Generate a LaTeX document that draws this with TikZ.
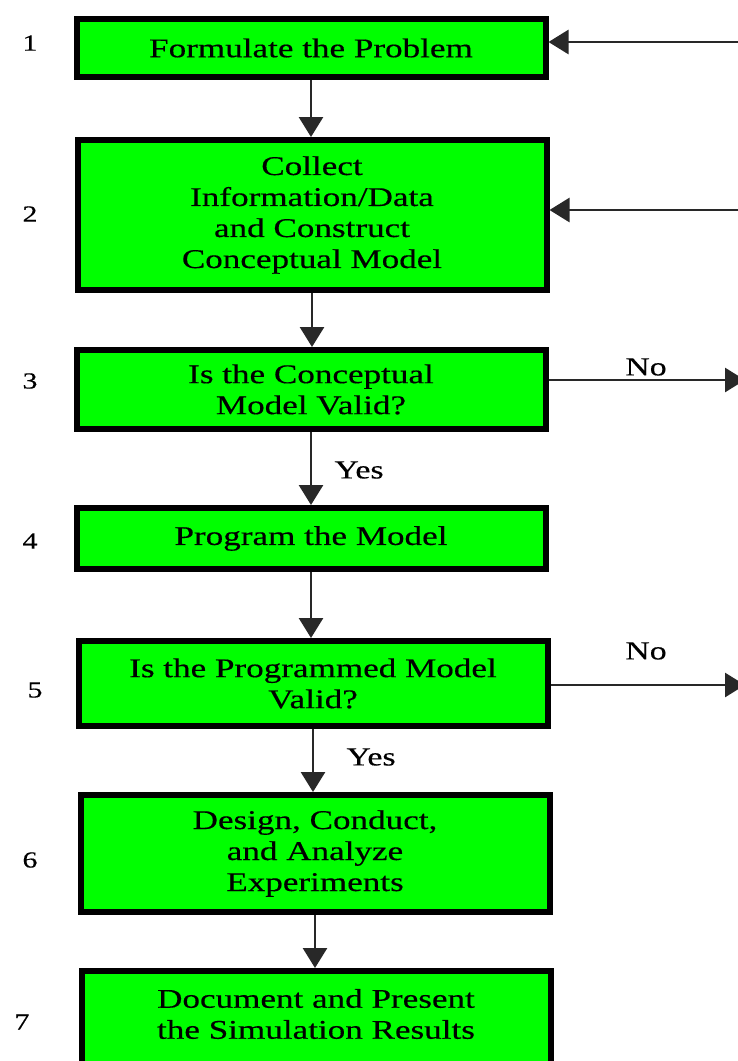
\documentclass[tikz,border=0pt]{standalone}
\usepackage{fontspec}
\setmainfont[FakeStretch=1.3,FakeBold=0.4]{Liberation Serif}
\usetikzlibrary{arrows.meta}
\definecolor{boxgreen}{RGB}{0,255,0}
\definecolor{linegray}{RGB}{40,40,40}
\begin{document}
\begin{tikzpicture}[x=1pt,y=-1pt,
  stepbox/.style={draw=black, line width=6pt, fill=boxgreen, minimum width=469pt,
    align=center, inner sep=0pt, font=\fontsize{27}{31}\selectfont},
  boxtext/.style={align=center, inner sep=0pt, font=\fontsize{27}{31}\selectfont},
  numlabel/.style={inner sep=0pt, font=\fontsize{23}{25}\selectfont},
  tag/.style={inner sep=0pt, font=\fontsize{26}{28}\selectfont},
  flow/.style={draw=linegray, line width=2.8pt,
    -{Triangle[width=24pt,length=20pt]}}]

\useasboundingbox (0,0) rectangle (737,1061);

% process steps
\node[stepbox, minimum height=58pt]  (b1) at (311,48)    {Formulate the Problem};
\node[stepbox, minimum height=150pt] (b2) at (312,215)   {Collect\\Information/Data\\and Construct\\Conceptual Model};
\node[stepbox, minimum height=79pt]  (b3) at (311,389.5) {Is the Conceptual\\Model Valid?};
\node[stepbox, minimum height=61pt]  (b4) at (311,538.5) {Program the Model};
\node[stepbox, minimum height=85pt]  (b5) at (313,683.5) {Is the Programmed Model\\Valid?};
\node[stepbox, minimum height=117pt] (b6) at (315,853.5) {Design, Conduct,\\and Analyze\\Experiments};
\node[stepbox, minimum height=126pt] (b7) at (316,1034)  {};
\node[boxtext] (t7) at (316,1014) {Document and Present\\the Simulation Results};

% step numbers
\node[numlabel] (n1) at (30,43)   {1};
\node[numlabel] (n2) at (30,214)  {2};
\node[numlabel] (n3) at (30,381)  {3};
\node[numlabel] (n4) at (30,541)  {4};
\node[numlabel] (n5) at (35,690)  {5};
\node[numlabel] (n6) at (30,860)  {6};
\node[numlabel] (n7) at (22,1022) {7};

% main downward flow
\draw[flow] (b1.south) -- (b1.south |- b2.north);
\draw[flow] (b2.south) -- (b2.south |- b3.north);
\draw[flow] (b3.south) -- (b3.south |- b4.north);
\draw[flow] (b4.south) -- (b4.south |- b5.north);
\draw[flow] (b5.south) -- (b5.south |- b6.north);
\draw[flow] (b6.south) -- (b6.south |- b7.north);

\node[tag] (yes1) at (359,470) {Yes};
\node[tag] (yes2) at (371,757) {Yes};

% feedback entries from the right
\coordinate (in1) at (750,42);
\coordinate (in2) at (750,210);
\draw[flow] (in1) -- (in1 -| b1.east);
\draw[flow] (in2) -- (in2 -| b2.east);

% rejection exits to the right
\coordinate (out3) at (745,380);
\coordinate (out5) at (745,685);
\draw[flow] (out3 -| b3.east) -- (out3);
\draw[flow] (out5 -| b5.east) -- (out5);
\node[tag] (no3) at (646,367) {No};
\node[tag] (no5) at (646,651) {No};
\end{tikzpicture}
\end{document}
